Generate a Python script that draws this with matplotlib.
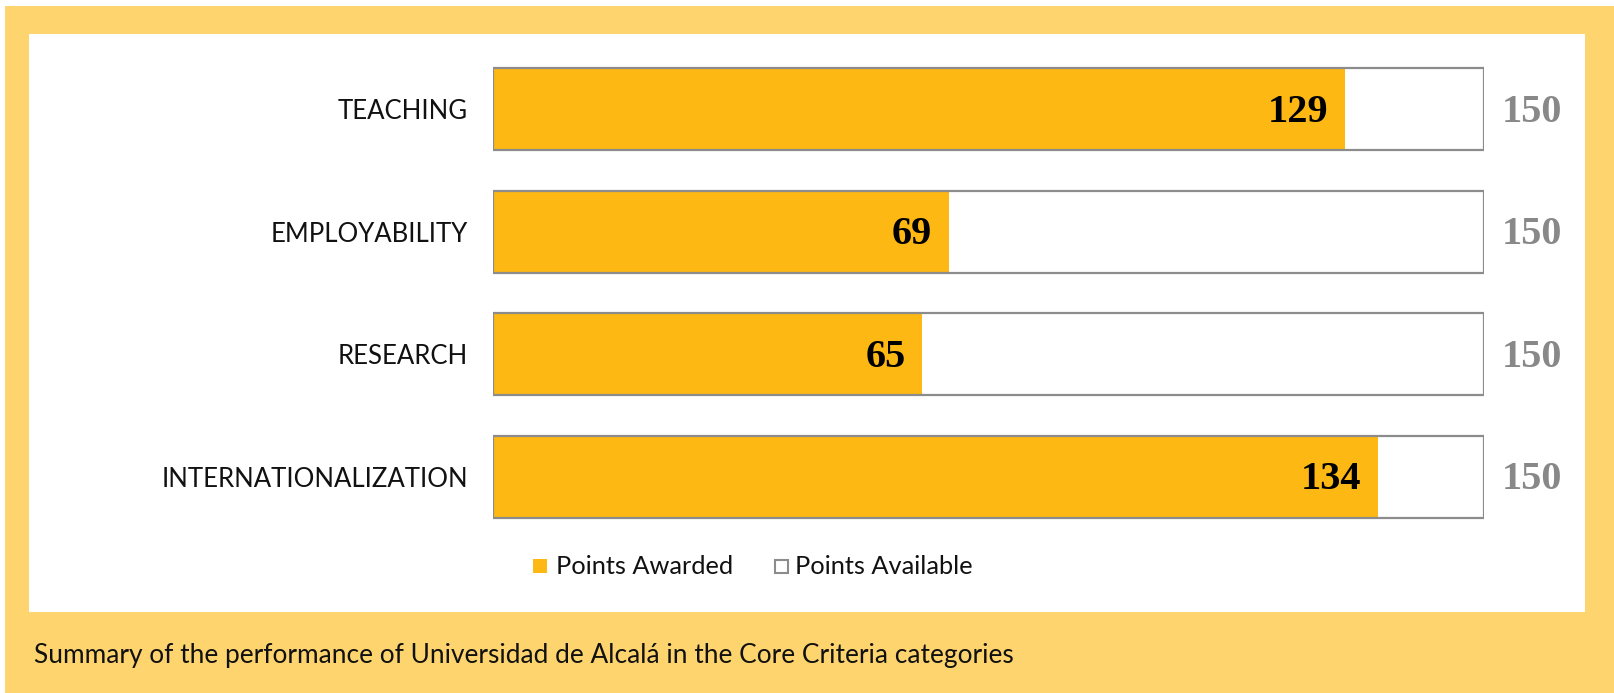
import matplotlib.pyplot as plt
from matplotlib.patches import Rectangle

categories = ['TEACHING', 'EMPLOYABILITY', 'RESEARCH', 'INTERNATIONALIZATION']
awarded = [129, 69, 65, 134]
available = [150, 150, 150, 150]

W, H = 1615, 693
fig = plt.figure(figsize=(W / 100, H / 100), dpi=100, facecolor='white')

# yellow frame and white panel
fig.patches.append(Rectangle((5 / W, 0), 1 - 5 / W, 1 - 6 / H, transform=fig.transFigure,
                             facecolor='#FED46E', edgecolor='none', zorder=-2))
fig.patches.append(Rectangle((29 / W, 1 - 612 / H), (1585 - 29) / W, (612 - 34) / H,
                             transform=fig.transFigure, facecolor='white',
                             edgecolor='none', zorder=-1))

ax = fig.add_axes([493 / W, 1 - 538 / H, (1484 - 493) / W, 490 / H])
ax.set_facecolor('none')
ax.set_zorder(2)

ypos = list(range(len(categories)))
ax.barh(ypos, available, height=0.67, color='white', edgecolor='none', zorder=1)
ax.barh(ypos, awarded, height=0.67, color='#FDB813', edgecolor='none', zorder=2)
ax.barh(ypos, available, height=0.67, fill=False, edgecolor='#8C8C8C', linewidth=1.6, zorder=3)

for y, a, t in zip(ypos, awarded, available):
    ax.annotate(str(a), (a, y), xytext=(-12, -2), textcoords='offset points',
                ha='right', va='center', fontsize=29, fontweight='bold',
                family='Liberation Serif', color='black', zorder=4)
    ax.annotate(str(t), (t, y), xytext=(13, -2), textcoords='offset points',
                ha='left', va='center', fontsize=29, fontweight='bold',
                family='Liberation Serif', color='#888888', zorder=4)

ax.set_xlim(0, 150)
ax.set_ylim(3.5, -0.5)
ax.set_yticks(ypos)
ax.set_yticklabels(categories, family='Lato', fontsize=18.5, color='#111111')
ax.tick_params(axis='y', length=0, pad=18)
ax.set_xticks([])
for s in ax.spines.values():
    s.set_visible(False)

# legend
fig.patches.append(Rectangle((533 / W, 1 - 573 / H), 14 / W, 14 / H, transform=fig.transFigure,
                             facecolor='#FDB813', edgecolor='none'))
fig.text(556 / W, 1 - 567 / H, 'Points Awarded', family='Lato', fontsize=18.3,
         va='center', ha='left', color='#111111')
fig.patches.append(Rectangle((775 / W, 1 - 573 / H), 13 / W, 13 / H, transform=fig.transFigure,
                             facecolor='white', edgecolor='#8C8C8C', linewidth=1.5))
fig.text(795 / W, 1 - 567 / H, 'Points Available', family='Lato', fontsize=18.3,
         va='center', ha='left', color='#111111')

fig.text(34 / W, 1 - 656 / H,
         'Summary of the performance of Universidad de Alcalá in the Core Criteria categories',
         family='Lato', fontsize=18.9, va='center', ha='left', color='#111111')

fig.savefig('out.png', dpi=100, facecolor='white')
